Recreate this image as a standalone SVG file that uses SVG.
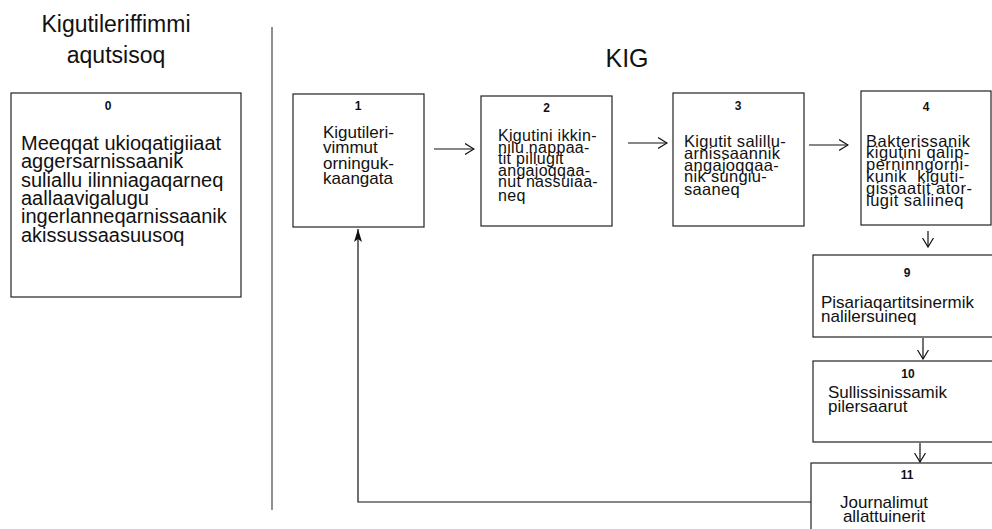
<svg xmlns="http://www.w3.org/2000/svg" width="992" height="529" viewBox="0 0 992 529">
<defs>
<style>
.box{fill:#fff;stroke:#222;stroke-width:1.2}
.t{font-family:"Liberation Sans",Arial,sans-serif;fill:#111}
.n{font-family:"Liberation Sans",Arial,sans-serif;font-weight:bold;font-size:12px;text-anchor:middle;fill:#111}
.c{fill:none;stroke:#111;stroke-width:1.2}
.pre{white-space:pre}
</style>
<marker id="open" viewBox="0 0 10 12" refX="9.5" refY="6" markerWidth="10" markerHeight="12" markerUnits="userSpaceOnUse" orient="auto">
<path d="M0.5,0.5 L9.5,6 L0.5,11.5" fill="none" stroke="#111" stroke-width="1.2"/>
</marker>
<marker id="solid" viewBox="0 0 13 8" refX="13" refY="4" markerWidth="13" markerHeight="8" markerUnits="userSpaceOnUse" orient="auto">
<path d="M0,0 L13,4 L0,8 L3,4 Z" fill="#111"/>
</marker>
</defs>
<rect width="992" height="529" fill="#fff"/>

<g id="header-left" class="t" font-size="23" text-anchor="middle">
<text x="116" y="32">Kigutileriffimmi</text>
<text x="116" y="63">aqutsisoq</text>
</g>
<g id="header-right" class="t" font-size="25" text-anchor="middle">
<text x="627" y="67">KIG</text>
</g>
<line id="divider" x1="272" y1="27" x2="272" y2="510" stroke="#555" stroke-width="1.3"/>

<g id="node0">
<rect class="box" x="11" y="93" width="230" height="204"/>
<text class="n" x="108" y="110">0</text>
<g class="t" font-size="20">
<text x="21" y="150">Meeqqat ukioqatigiiaat</text>
<text x="21" y="168.3">aggersarnissaanik</text>
<text x="21" y="186.7">suliallu ilinniagaqarneq</text>
<text x="21" y="205">aallaavigalugu</text>
<text x="21" y="223.3">ingerlanneqarnissaanik</text>
<text x="21" y="241.7">akissussaasuusoq</text>
</g>
</g>

<g id="node1">
<rect class="box" x="293" y="94" width="131" height="133"/>
<text class="n" x="358" y="109.5">1</text>
<g class="t" font-size="17">
<text x="323" y="137.5">Kigutileri-</text>
<text x="323" y="153">vimmut</text>
<text x="323" y="168.5">orninguk-</text>
<text x="323" y="184">kaangata</text>
</g>
</g>

<g id="node2">
<rect class="box" x="481" y="96" width="131" height="130"/>
<text class="n" x="546.5" y="112">2</text>
<g class="t" font-size="16" letter-spacing="0.3">
<text x="498" y="141">Kigutini ikkin-</text>
<text x="498" y="152.7">nilu nappaa-</text>
<text x="498" y="164.3">tit pillugit</text>
<text x="498" y="175.7">angajoqqaa-</text>
<text x="498" y="187.3">nut nassuiaa-</text>
<text x="498" y="200.7">neq</text>
</g>
</g>

<g id="node3">
<rect class="box" x="673" y="93" width="131" height="133"/>
<text class="n" x="738" y="110">3</text>
<g class="t" font-size="16.5" letter-spacing="0.3">
<text x="684" y="147.3">Kigutit salillu-</text>
<text x="684" y="159">arnissaannik</text>
<text x="684" y="170.7">angajoqqaa-</text>
<text x="684" y="182.3">nik sungiu-</text>
<text x="684" y="194.5">saaneq</text>
</g>
</g>

<g id="node4">
<rect class="box" x="861" y="91" width="130" height="134"/>
<text class="n" x="926" y="111">4</text>
<g class="t" font-size="16.5" letter-spacing="0.5">
<text x="866" y="146.7">Bakterissanik</text>
<text x="866" y="158.3">kigutini qalip-</text>
<text x="866" y="170">perninngorni-</text>
<text class="pre" x="866" y="181.7">kunik  kiguti-</text>
<text x="866" y="194">gissaatit ator-</text>
<text x="866" y="206">lugit saliineq</text>
</g>
</g>

<g id="node9">
<rect class="box" x="813" y="255" width="190" height="82"/>
<text class="n" x="907" y="276.5">9</text>
<g class="t" font-size="17">
<text x="821" y="308">Pisariaqartitsinermik</text>
<text x="821" y="321.5">nalilersuineq</text>
</g>
</g>

<g id="node10">
<rect class="box" x="813" y="361" width="190" height="81"/>
<text class="n" x="908" y="377.5">10</text>
<g class="t" font-size="17">
<text x="828" y="398">Sullissinissamik</text>
<text x="828" y="412">pilersaarut</text>
</g>
</g>

<g id="node11">
<rect class="box" x="811" y="463" width="192" height="80"/>
<text class="n" x="907" y="479">11</text>
<g class="t" font-size="17" text-anchor="middle">
<text x="884" y="508">Journalimut</text>
<text x="884" y="522">allattuinerit</text>
</g>
</g>

<g id="connectors">
<line class="c" x1="434" y1="149" x2="474" y2="149" marker-end="url(#open)"/>
<line class="c" x1="628" y1="143" x2="667" y2="143" marker-end="url(#open)"/>
<line class="c" x1="809" y1="145" x2="848" y2="145" marker-end="url(#open)"/>
<line class="c" x1="928" y1="231" x2="928" y2="247" marker-end="url(#open)"/>
<line class="c" x1="923" y1="338" x2="923" y2="359" marker-end="url(#open)"/>
<line class="c" x1="920" y1="443" x2="920" y2="462" marker-end="url(#open)"/>
<polyline class="c" points="811,502 358,502 358,229" marker-end="url(#solid)"/>
</g>
</svg>
